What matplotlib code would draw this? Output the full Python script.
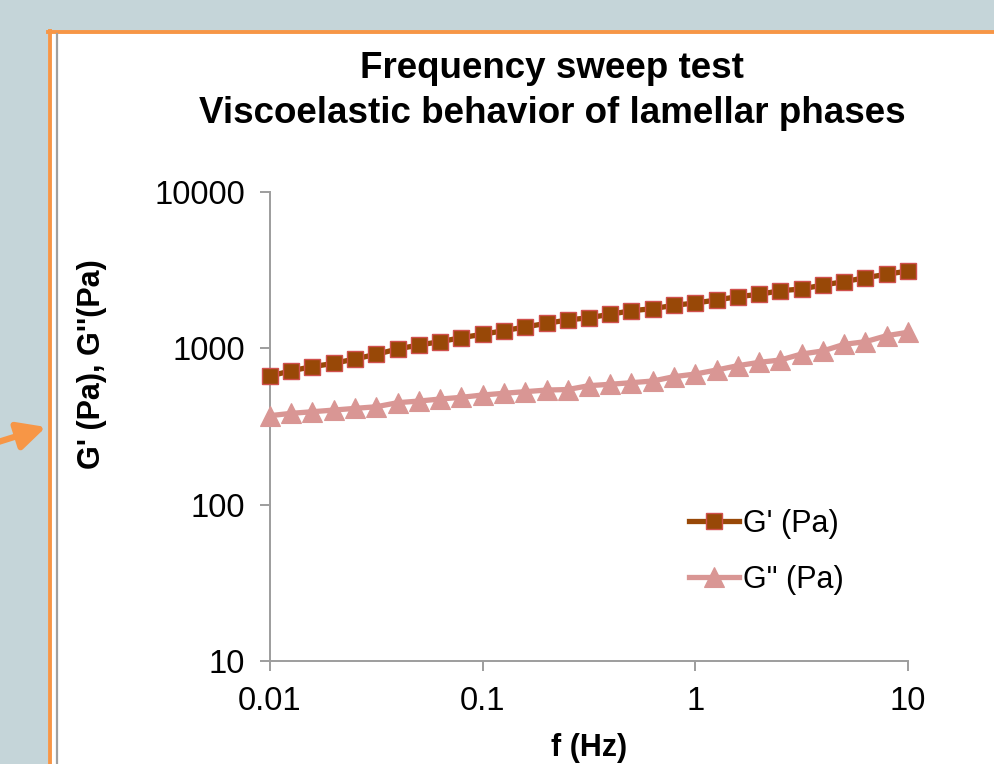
import matplotlib
matplotlib.use("Agg")
import matplotlib.pyplot as plt
from matplotlib.patches import Rectangle
from matplotlib.lines import Line2D

plt.rcParams["font.family"] = ["Liberation Sans", "DejaVu Sans"]

# frequency sweep data
freq = [0.01, 0.0126, 0.0158, 0.02, 0.0251, 0.0316, 0.0398, 0.0501, 0.0631, 0.0794,
        0.1, 0.126, 0.158, 0.2, 0.251, 0.316, 0.398, 0.501, 0.631, 0.794,
        1, 1.26, 1.58, 2, 2.51, 3.16, 3.98, 5.01, 6.31, 7.94, 10]
g_storage = [665, 719, 763, 802, 855, 916, 990, 1050, 1103, 1170,
             1230, 1297, 1369, 1446, 1518, 1570, 1651, 1741, 1793, 1885,
             1950, 2038, 2140, 2216, 2337, 2396, 2542, 2669, 2831, 2976, 3125]
g_loss = [371, 384, 393, 403, 413, 423, 449, 460, 474, 486,
          503, 516, 528, 541, 545, 577, 589, 603, 618, 659,
          685, 727, 774, 814, 842, 920, 962, 1061, 1103, 1205, 1267]

x_ticks = [0.01, 0.1, 1, 10]
x_labels = ["0.01", "0.1", "1", "10"]
y_ticks = [10, 100, 1000, 10000]
y_labels = ["10", "100", "1000", "10000"]

W, H = 994, 764
fig = plt.figure(figsize=(W / 100, H / 100), dpi=100)
fig.patch.set_facecolor("#c5d5d9")

# white slide panel with orange frame
orange = "#f79646"
fig.patches.append(Rectangle((48 / W, -0.1), 1.2, 1.1 - 31 / H, transform=fig.transFigure,
                             facecolor="white", edgecolor="none", zorder=-5))
fig.lines.append(Line2D([49.8 / W, 49.8 / W], [-0.1, 1 - 30.5 / H], transform=fig.transFigure,
                        color=orange, lw=2.8, zorder=-4))
fig.lines.append(Line2D([48 / W, 1.1], [1 - 32.3 / H, 1 - 32.3 / H], transform=fig.transFigure,
                        color=orange, lw=2.8, zorder=-4))
fig.lines.append(Line2D([57 / W, 57 / W], [-0.1, 1 - 34 / H], transform=fig.transFigure,
                        color="#a0a0a0", lw=1.6, zorder=-4))

ax = fig.add_axes([270 / W, 1 - 661 / H, (908 - 270) / W, (661 - 192) / H])
ax.patch.set_visible(False)

ax.plot(freq, g_storage, color="#984807", lw=3.8, marker="s", ms=11.5,
        mfc="#984807", mec="#d0504d", mew=1.0, label="G' (Pa)", clip_on=False, zorder=3)
ax.plot(freq, g_loss, color="#d99694", lw=3.8, marker="^", ms=14.5,
        mfc="#d99694", mec="#d99694", mew=0.8, label='G" (Pa)', clip_on=False, zorder=3)

ax.set_xscale("log")
ax.set_yscale("log")
ax.set_xlim(0.01, 10)
ax.set_ylim(10, 10000)
ax.set_xticks(x_ticks)
ax.set_xticklabels(x_labels)
ax.set_yticks(y_ticks)
ax.set_yticklabels(y_labels)
ax.minorticks_off()

for s in ["top", "right"]:
    ax.spines[s].set_visible(False)
for s in ["left", "bottom"]:
    ax.spines[s].set_color("#9d9d9d")
    ax.spines[s].set_linewidth(1.4)
ax.tick_params(axis="both", colors="#9d9d9d", length=7, width=1.4, labelsize=23.5,
               labelcolor="black")
ax.tick_params(axis="y", pad=11)
ax.tick_params(axis="x", pad=11)

fig.text(92 / W, 1 - 364 / H, "G' (Pa), G''(Pa)", rotation=90, ha="center", va="center",
         fontsize=22, fontweight="bold")
fig.text(589 / W, 1 - 748 / H, "f (Hz)", ha="center", va="center",
         fontsize=22, fontweight="bold")

fig.text(552 / W, 1 - 78 / H, "Frequency sweep test", ha="center", va="baseline",
         fontsize=26.5, fontweight="bold")
fig.text(552 / W, 1 - 123 / H, "Viscoelastic behavior of lamellar phases", ha="center",
         va="baseline", fontsize=26.5, fontweight="bold")

ax.legend(loc="upper left", bbox_to_anchor=(689 / W, 1 - 509 / H),
          bbox_transform=fig.transFigure, frameon=False, fontsize=22, numpoints=1,
          handlelength=1.65, handletextpad=0.12, labelspacing=0.85, borderpad=0,
          borderaxespad=0)

# orange pointer arrow on the left
ax.annotate("", xy=(46, H - 427), xycoords="figure pixels",
            xytext=(-5, H - 443), textcoords="figure pixels",
            arrowprops=dict(arrowstyle="-|>", color=orange, lw=4.5, mutation_scale=42,
                            shrinkA=0, shrinkB=0),
            annotation_clip=False)

fig.savefig("out.png", dpi=100, facecolor=fig.get_facecolor())
